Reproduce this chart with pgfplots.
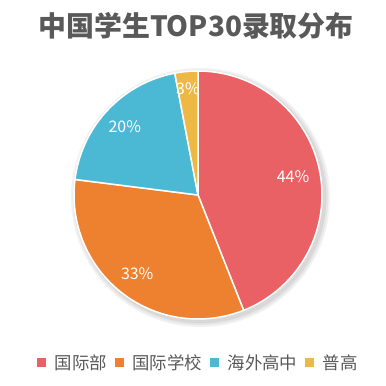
\documentclass[border=0pt]{standalone}
\usepackage{pgfplots}
\pgfplotsset{compat=1.18}
\usepackage{pgfplotstable}
\usepackage{fontspec}
\setmainfont{Noto Sans CJK SC}
\definecolor{cA}{HTML}{EA6165}
\definecolor{cB}{HTML}{EE8130}
\definecolor{cC}{HTML}{4BB9D4}
\definecolor{cD}{HTML}{EEB844}
\definecolor{txt}{HTML}{595959}
\newcommand{\sq}[1]{\textcolor{#1}{\raisebox{3bp}{\rule{9bp}{9bp}}}\hspace{8.5bp}}
\pgfplotstableread{
id value
A 44
B 33
C 20
D 3
}\piedata
\begin{document}
\begin{tikzpicture}
\useasboundingbox (0,0) rectangle (386bp,386bp);
\pgfplotstablegetelem{0}{value}\of\piedata \let\vA\pgfplotsretval
\pgfplotstablegetelem{1}{value}\of\piedata \let\vB\pgfplotsretval
\pgfplotstablegetelem{2}{value}\of\piedata \let\vC\pgfplotsretval
\pgfplotstablegetelem{3}{value}\of\piedata \let\vD\pgfplotsretval
\pgfmathsetmacro{\sA}{90}
\pgfmathsetmacro{\sB}{\sA-3.6*\vA}
\pgfmathsetmacro{\sC}{\sB-3.6*\vB}
\pgfmathsetmacro{\sD}{\sC-3.6*\vC}
\pgfmathsetmacro{\sE}{\sD-3.6*\vD}
\pgfmathsetmacro{\mA}{(\sA+\sB)/2}
\pgfmathsetmacro{\mB}{(\sB+\sC)/2}
\pgfmathsetmacro{\mC}{(\sC+\sD)/2}
\pgfmathsetmacro{\mD}{(\sD+\sE)/2}
\node[font=\fontsize{28}{32}\selectfont\bfseries, text=txt] at (196bp,360bp) {中国学生TOP30录取分布};
\begin{axis}[
  at={(198bp,191bp)}, anchor=origin,
  x=124bp, y=124bp,
  xmin=-1.1, xmax=1.1, ymin=-1.1, ymax=1.1,
  hide axis, clip=false,
  legend columns=4,
  legend image code/.code={},
  legend style={draw=none, fill=none, at={(axis description cs:0.498,-0.116)}, anchor=center,
    font=\fontsize{17.5}{20}\selectfont, text=txt,
    nodes={inner sep=0pt},
    /tikz/every even column/.append style={column sep=8bp},
    inner sep=0pt},
]
\addplot[fill=black, opacity=0.05, draw=none, domain=0:360, samples=120, forget plot] ({1.045*cos(x)+0.02},{1.045*sin(x)-0.02});
\addplot[fill=black, opacity=0.05, draw=none, domain=0:360, samples=120, forget plot] ({1.03*cos(x)+0.02},{1.03*sin(x)-0.02});
\addplot[fill=black, opacity=0.06, draw=none, domain=0:360, samples=120, forget plot] ({1.015*cos(x)+0.02},{1.015*sin(x)-0.02});
\addplot[fill=cA, draw=white, line width=1.5bp, line join=round, domain=\sB:\sA, samples=80, variable=\t] ({cos(\t)},{sin(\t)}) -- (axis cs:0,0) -- cycle;
\addlegendentry{\sq{cA}国际部}
\addplot[fill=cB, draw=white, line width=1.5bp, line join=round, domain=\sC:\sB, samples=60, variable=\t] ({cos(\t)},{sin(\t)}) -- (axis cs:0,0) -- cycle;
\addlegendentry{\sq{cB}国际学校}
\addplot[fill=cC, draw=white, line width=1.5bp, line join=round, domain=\sD:\sC, samples=40, variable=\t] ({cos(\t)},{sin(\t)}) -- (axis cs:0,0) -- cycle;
\addlegendentry{\sq{cC}海外高中}
\addplot[fill=cD, draw=white, line width=1.5bp, line join=round, domain=\sE:\sD, samples=10, variable=\t] ({cos(\t)},{sin(\t)}) -- (axis cs:0,0) -- cycle;
\addlegendentry{\sq{cD}普高}
\node[text=white, font=\fontsize{16}{18}\selectfont] at (axis cs:{0.78*cos(\mA)},{0.78*sin(\mA)}) {\vA\%};
\node[text=white, font=\fontsize{16}{18}\selectfont] at (axis cs:{0.8*cos(\mB)},{0.8*sin(\mB)}) {\vB\%};
\node[text=white, font=\fontsize{16}{18}\selectfont] at (axis cs:{0.81*cos(\mC)},{0.81*sin(\mC)}) {\vC\%};
\node[text=white, font=\fontsize{16}{18}\selectfont] at (axis cs:{0.86*cos(\mD)},{0.86*sin(\mD)}) {\vD\%};
\end{axis}
\end{tikzpicture}
\end{document}
